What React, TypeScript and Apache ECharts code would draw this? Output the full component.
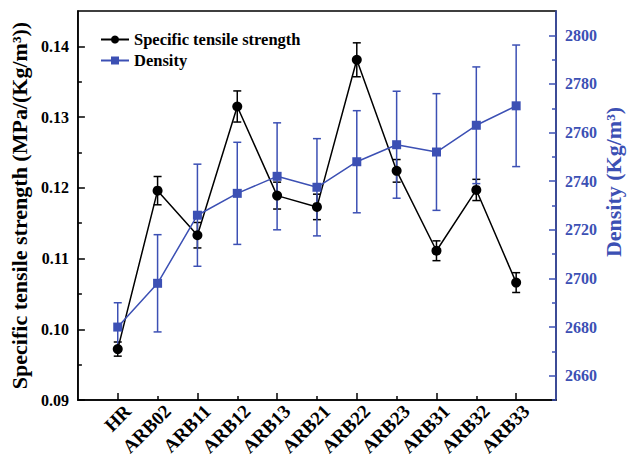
import React, { useEffect, useRef } from "react";
import * as echarts from "echarts";

const categories = ["HR", "ARB02", "ARB11", "ARB12", "ARB13", "ARB21", "ARB22", "ARB23", "ARB31", "ARB32", "ARB33"];
const strength = [0.0972, 0.1196, 0.1133, 0.1315, 0.1189, 0.1173, 0.1381, 0.1224, 0.1111, 0.1197, 0.1066];
const strengthErr = [0.001, 0.002, 0.0018, 0.0022, 0.0019, 0.0018, 0.0024, 0.0016, 0.0014, 0.0015, 0.0014];
const density = [2680, 2698, 2726, 2735, 2742, 2737.5, 2748, 2755, 2752, 2763, 2771];
const densityErr = [10, 20, 21, 21, 22, 20, 21, 22, 24, 24, 25];
const leftMajor = [0.09, 0.1, 0.11, 0.12, 0.13, 0.14];
const leftMinor = [0.095, 0.105, 0.115, 0.125, 0.135];
const rightMajor = [2660, 2680, 2700, 2720, 2740, 2760, 2780, 2800];
const rightMinor = [2650, 2670, 2690, 2710, 2730, 2750, 2770, 2790];

const BLUE = "#3C50B4";
const FONT = "Liberation Serif";
const LABEL_SHIFT = 0.25;

function errSeries(name: string, vals: number[], errs: number[], yIdx: number, color: string, z: number) {
  return {
    name,
    type: "custom",
    xAxisIndex: 0,
    yAxisIndex: yIdx,
    z,
    encode: { x: 0, y: [1, 2] },
    data: vals.map((v, i) => [i, v - errs[i], v + errs[i]]),
    renderItem: (params: any, api: any) => {
      const x = api.value(0);
      const lo = api.coord([x, api.value(1)]);
      const hi = api.coord([x, api.value(2)]);
      const w = 4;
      const st = { stroke: color, lineWidth: 1.5 };
      return {
        type: "group",
        children: [
          { type: "line", shape: { x1: lo[0], y1: lo[1], x2: hi[0], y2: hi[1] }, style: st },
          { type: "line", shape: { x1: lo[0] - w, y1: lo[1], x2: lo[0] + w, y2: lo[1] }, style: st },
          { type: "line", shape: { x1: hi[0] - w, y1: hi[1], x2: hi[0] + w, y2: hi[1] }, style: st },
        ],
      };
    },
  };
}

export default function App() {
  const ref = useRef<HTMLDivElement>(null);
  useEffect(() => {
    if (!ref.current) return;
    const chart = echarts.init(ref.current, null, { renderer: "svg" });
    const labelBase = { fontFamily: FONT, fontWeight: "bold", fontSize: 16 };
    chart.setOption({
      animation: false,
      backgroundColor: "#fff",
      grid: { left: 76, right: 74, top: 11, bottom: 60, show: true, borderColor: "#000", borderWidth: 1.5, backgroundColor: "transparent" },
      legend: {
        data: ["Specific tensile strength", "Density"],
        orient: "vertical",
        left: 95,
        top: 26,
        itemWidth: 28,
        itemHeight: 10,
        itemGap: 4,
        textStyle: { fontFamily: FONT, fontWeight: "bold", fontSize: 16.5, color: "#000" },
      },
      graphic: [
        {
          type: "text",
          x: 613,
          y: 182,
          rotation: Math.PI / 2,
          style: {
            text: "Density (Kg/m³)",
            fontFamily: FONT,
            fontWeight: "bold",
            fontSize: 22,
            fill: BLUE,
            align: "center",
            verticalAlign: "middle",
          },
        },
      ],
      xAxis: [
        {
          type: "value",
          min: -1,
          max: 11,
          axisLine: { show: true, onZero: false, lineStyle: { color: "#000", width: 1.5 } },
          axisTick: { show: true, inside: true, length: 7, customValues: [0, 2, 4, 6, 8, 10], lineStyle: { color: "#000", width: 1.5 } },
          axisLabel: { show: false },
          splitLine: { show: false },
        },
        {
          type: "value",
          position: "bottom",
          min: -1,
          max: 11,
          axisLine: { show: false, onZero: false },
          axisTick: { show: true, inside: true, length: 4, customValues: [1, 3, 5, 7, 9], lineStyle: { color: "#000", width: 1.5 } },
          axisLabel: { show: false },
          splitLine: { show: false },
        },
        {
          type: "value",
          position: "bottom",
          min: -1 - LABEL_SHIFT,
          max: 11 - LABEL_SHIFT,
          axisLine: { show: false, onZero: false },
          axisTick: { show: false },
          axisLabel: {
            ...labelBase,
            fontSize: 19,
            color: "#000",
            rotate: 45,
            margin: 8,
            customValues: categories.map((_, i) => i),
            formatter: (v: number) => categories[Math.round(v)] ?? "",
          },
          splitLine: { show: false },
        },
      ],
      yAxis: [
        {
          type: "value",
          position: "left",
          min: 0.09,
          max: 0.145,
          name: "Specific tensile strength (MPa/(Kg/m³))",
          nameLocation: "middle",
          nameGap: 32,
          nameTextStyle: { fontFamily: FONT, fontWeight: "bold", fontSize: 22, color: "#000" },
          axisLine: { show: true, onZero: false, lineStyle: { color: "#000", width: 1.5 } },
          axisTick: { show: true, inside: true, length: 7, customValues: leftMajor, lineStyle: { color: "#000", width: 1.5 } },
          axisLabel: { ...labelBase, color: "#000", margin: 9, customValues: leftMajor, formatter: (v: number) => v.toFixed(2) },
          splitLine: { show: false },
        },
        {
          type: "value",
          position: "right",
          min: 2650,
          max: 2810,
          axisLine: { show: true, onZero: false, lineStyle: { color: BLUE, width: 1.5 } },
          axisTick: { show: true, inside: true, length: 7, customValues: rightMajor, lineStyle: { color: BLUE, width: 1.5 } },
          axisLabel: { ...labelBase, color: BLUE, margin: 9, customValues: rightMajor, formatter: (v: number) => String(Math.round(v)) },
          splitLine: { show: false },
        },
        {
          type: "value",
          position: "left",
          min: 0.09,
          max: 0.145,
          axisLine: { show: false, onZero: false },
          axisTick: { show: true, inside: true, length: 4, customValues: leftMinor, lineStyle: { color: "#000", width: 1.5 } },
          axisLabel: { show: false },
          splitLine: { show: false },
        },
        {
          type: "value",
          position: "right",
          min: 2650,
          max: 2810,
          axisLine: { show: false, onZero: false },
          axisTick: { show: true, inside: true, length: 4, customValues: rightMinor, lineStyle: { color: BLUE, width: 1.5 } },
          axisLabel: { show: false },
          splitLine: { show: false },
        },
      ],
      series: [
        errSeries("strengthErr", strength, strengthErr, 0, "#000", 2),
        errSeries("densityErr", density, densityErr, 1, BLUE, 3),
        {
          name: "Specific tensile strength",
          type: "line",
          xAxisIndex: 0,
          yAxisIndex: 0,
          z: 4,
          data: strength.map((v, i) => [i, v]),
          symbol: "circle",
          symbolSize: 10,
          lineStyle: { color: "#000", width: 1.5 },
          itemStyle: { color: "#000" },
        },
        {
          name: "Density",
          type: "line",
          xAxisIndex: 0,
          yAxisIndex: 1,
          z: 5,
          data: density.map((v, i) => [i, v]),
          symbol: "rect",
          symbolSize: 9,
          lineStyle: { color: BLUE, width: 1.5 },
          itemStyle: { color: BLUE },
        },
      ],
    });
    return () => chart.dispose();
  }, []);
  return <div ref={ref} style={{ width: 630, height: 460, position: "absolute", left: 0, top: 0 }} />;
}
